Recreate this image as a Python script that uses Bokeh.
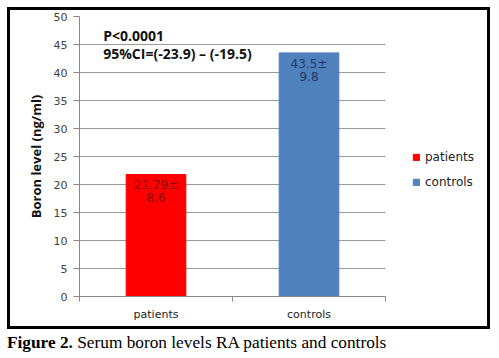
from bokeh.plotting import figure
from bokeh.models import (ColumnDataSource, Range1d, FixedTicker, Label, LabelSet,
                          Legend, LegendItem, Div)
from bokeh.core.properties import value
from bokeh.layouts import column
from bokeh.embed import file_html
from bokeh.resources import INLINE

categories = ["patients", "controls"]
means = [21.79, 43.5]
sds = [8.6, 9.8]
colors = ["#ff0000", "#4f81bd"]
label_colors = ["#8a0a0a", "#1f3864"]
y_ticks = [0, 5, 10, 15, 20, 25, 30, 35, 40, 45, 50]
annot_lines = ["P<0.0001", "95%CI=(-23.9) \u2013 (-19.5)"]
caption_bold = "Figure 2."
caption_rest = "Serum boron levels RA patients and controls"

n = len(categories)
xs = [i + 0.5 for i in range(n)]
src = ColumnDataSource(dict(
    x=xs, top=means, cat=categories, color=colors, lcolor=label_colors,
    l1=[f"{m}\u00b1" for m in means], l2=[f"{s}" for s in sds],
))

FW = 402          # requested frame width; rendered about 6 px wider with the CSS border
p = figure(frame_width=FW, frame_height=274, output_backend="svg", toolbar_location=None,
           x_range=Range1d(0, n * (FW + 6) / 306), y_range=Range1d(0, 50),
           min_border_left=69, min_border_right=6, min_border_top=6,
           min_border_bottom=36)
p.styles = {"border": "3px solid black"}
p.outline_line_color = None
p.background_fill_color = "white"

r = p.vbar(x="x", top="top", width=0.39, bottom=0, color="color", source=src)

# axes
p.xaxis.bounds = (0, n)
p.xaxis.ticker = FixedTicker(ticks=xs, minor_ticks=list(range(n + 1)))
p.xaxis.major_label_overrides = {x: c for x, c in zip(xs, categories)}
p.xaxis.major_tick_out = 0
p.xaxis.major_tick_in = 0
p.xaxis.minor_tick_out = 5
p.xaxis.minor_tick_in = 0
p.xaxis.minor_tick_line_color = "#888888"
p.xaxis.axis_line_color = "#888888"
p.xaxis.major_label_text_font = "DejaVu Sans"
p.xaxis.major_label_text_font_size = "11px"
p.xaxis.major_label_text_color = "#222222"
p.xaxis.major_label_standoff = 6

p.yaxis.ticker = FixedTicker(ticks=y_ticks)
p.yaxis.minor_tick_line_color = None
p.yaxis.major_tick_out = 6
p.yaxis.major_tick_in = 0
p.yaxis.major_tick_line_color = "#888888"
p.yaxis.axis_line_color = "#888888"
p.yaxis.major_label_text_font = "DejaVu Sans"
p.yaxis.major_label_text_font_size = "11px"
p.yaxis.major_label_text_color = "#404040"
p.yaxis.major_label_standoff = 6
p.yaxis.axis_label = "Boron level (ng/ml)"
p.yaxis.axis_label_text_font = "Open Sans"
p.yaxis.axis_label_text_font_style = "bold"
p.yaxis.axis_label_text_font_size = "13px"
p.yaxis.axis_label_text_color = "#111111"
p.yaxis.axis_label_standoff = 6

p.xgrid.grid_line_color = None
p.ygrid.grid_line_color = "#999999"
p.ygrid.grid_line_width = 1
p.ygrid.cross_bounds = (0, n)

# value labels inside bars
for col, off in (("l1", -4), ("l2", -19)):
    p.add_layout(LabelSet(x="x", y="top", text=col, source=src, text_align="center",
                          text_baseline="top", y_offset=off,
                          text_font_size=value("12px"),
                          text_font=value("DejaVu Sans"), text_color="lcolor"))

# annotation
for i, t in enumerate(annot_lines):
    p.add_layout(Label(x=0.155, y=46.6 - 3.25 * i, text=t, text_baseline="middle",
                       text_font="Open Sans", text_font_style="bold",
                       text_font_size="14px", text_color="#111111"))

legend = Legend(items=[LegendItem(label=c, renderers=[r], index=i)
                       for i, c in enumerate(categories)],
                location=(333, 106), orientation="vertical")
legend.glyph_width = 8
legend.glyph_height = 8
legend.label_standoff = 5
legend.spacing = 9
legend.padding = 0
legend.margin = 0
legend.border_line_color = None
legend.background_fill_alpha = 0
legend.label_text_font = "DejaVu Sans"
legend.label_text_font_size = "12px"
legend.label_text_color = "#222222"
legend.label_height = 16
p.add_layout(legend, "center")

cap = Div(text=f'<b>{caption_bold}</b> {caption_rest}', width=484, height=20,
          styles={"font-family": "'Liberation Serif', 'Times New Roman', serif",
                  "font-size": "17.3px", "color": "#000000", "margin": "0",
                  "line-height": "19px"})

layout = column(p, cap, spacing=4, margin=(7, 0, 0, 7))
open("out.html", "w").write(file_html(layout, INLINE))
